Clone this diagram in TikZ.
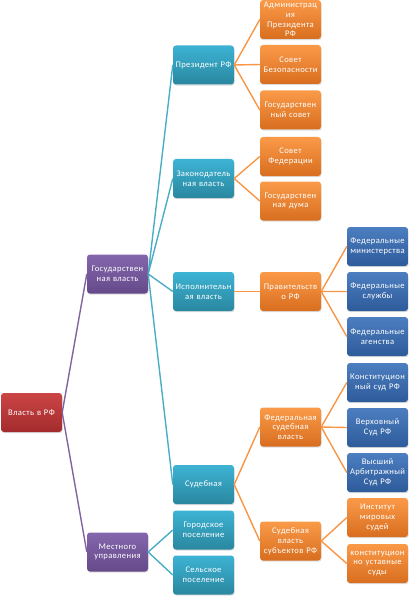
\documentclass[tikz,border=0pt]{standalone}
\usepackage{fontspec}
\setmainfont{Carlito}
\newfontfamily\boxfont[LetterSpace=4]{Carlito}
\usetikzlibrary{shadows}
\definecolor{redT}{HTML}{CC4545}
\definecolor{redB}{HTML}{A32B2D}
\definecolor{purT}{HTML}{8466AC}
\definecolor{purB}{HTML}{654A8A}
\definecolor{tealT}{HTML}{3DB3D4}
\definecolor{tealB}{HTML}{2A879F}
\definecolor{orT}{HTML}{FA9A48}
\definecolor{orB}{HTML}{D86E1F}
\definecolor{blT}{HTML}{4C7EC0}
\definecolor{blB}{HTML}{2E5B9A}
\definecolor{purL}{HTML}{8064A2}
\definecolor{tealL}{HTML}{4BACC6}
\definecolor{orL}{HTML}{F79646}
\tikzset{
  box/.style={minimum width=61pt, minimum height=39pt, text width=60pt, align=center,
    inner sep=0pt, rounded corners=3pt, text=white,
    font=\boxfont\fontsize{8.6}{9.8}\selectfont,
    drop shadow={shadow xshift=0.6pt, shadow yshift=-1.2pt, fill=black!22, opacity=0.6}},
  redbox/.style={box, top color=redT, bottom color=redB},
  purbox/.style={box, top color=purT, bottom color=purB},
  tealbox/.style={box, top color=tealT, bottom color=tealB},
  orbox/.style={box, top color=orT, bottom color=orB},
  blbox/.style={box, top color=blT, bottom color=blB},
  purline/.style={draw=purL, line width=1.4pt},
  tealline/.style={draw=tealL, line width=1.4pt},
  orline/.style={draw=orL, line width=1.4pt},
}
\begin{document}
\begin{tikzpicture}[x=1pt,y=-1pt]
\useasboundingbox (0,0) rectangle (408,596);
% nodes
\node[redbox] (root) at (31.5,412.5) {Власть в РФ};
\node[purbox] (gov) at (117.5,274) {Государствен\\ная власть};
\node[purbox] (mest) at (117.5,552) {Местного\\управления};

\node[tealbox] (pres) at (203.5,65) {Президент РФ};
\node[tealbox] (zak) at (203.5,178.5) {Законодатель\\ная власть};
\node[tealbox] (isp) at (203.5,291.5) {Исполнительн\\ая власть};
\node[tealbox] (sud) at (203.5,484.5) {Судебная};
\node[tealbox] (gor) at (203.5,530) {Городское\\поселение};
\node[tealbox] (sel) at (203.5,575) {Сельское\\поселение};

\node[orbox] (adm) at (290.5,19.5) {Администрац\\ия\\Президента\\РФ};
\node[orbox] (sovb) at (290.5,64.5) {Совет\\Безопасности};
\node[orbox] (gsov) at (290.5,110) {Государствен\\ный совет};
\node[orbox] (sovf) at (290.5,156.5) {Совет\\Федерации};
\node[orbox] (gduma) at (290.5,201) {Государствен\\ная дума};
\node[orbox] (prav) at (290.5,291.5) {Правительств\\о РФ};
\node[orbox] (fsv) at (290.5,427) {Федеральная\\судебная\\власть};
\node[orbox] (ssub) at (290.5,541) {Судебная\\власть\\субъектов РФ};

\node[blbox] (fmin) at (377.5,246.5) {Федеральные\\министерства};
\node[blbox] (fsl) at (377.5,291.5) {Федеральные\\службы};
\node[blbox] (fag) at (377.5,336.5) {Федеральные\\агенства};
\node[blbox] (ks) at (377.5,382.5) {Конституцион\\ный суд РФ};
\node[blbox] (vs) at (377.5,427.5) {Верховный\\Суд РФ};
\node[blbox] (vas) at (377.5,472.5) {Высший\\Арбитражный\\Суд РФ};
\node[orbox] (ims) at (377.5,517.5) {Институт\\мировых\\судей};
\node[orbox] (kus) at (377.5,563.5) {конституцион\\но уставные\\суды};

% connectors
\path[purline] (root.east) -- (gov.west) (root.east) -- (mest.west);
\path[tealline] (gov.east) -- (pres.west) (gov.east) -- (zak.west) (gov.east) -- (isp.west) (gov.east) -- (sud.west);
\path[tealline] (mest.east) -- (gor.west) (mest.east) -- (sel.west);
\path[orline] (pres.east) -- (adm.west) (pres.east) -- (sovb.west) (pres.east) -- (gsov.west);
\path[orline] (zak.east) -- (sovf.west) (zak.east) -- (gduma.west);
\path[orline] (isp.east) -- (prav.west);
\path[orline] (sud.east) -- (fsv.west) (sud.east) -- (ssub.west);
\path[orline] (prav.east) -- (fmin.west) (prav.east) -- (fsl.west) (prav.east) -- (fag.west);
\path[orline] (fsv.east) -- (ks.west) (fsv.east) -- (vs.west) (fsv.east) -- (vas.west);
\path[orline] (ssub.east) -- (ims.west) (ssub.east) -- (kus.west);
\end{tikzpicture}
\end{document}
